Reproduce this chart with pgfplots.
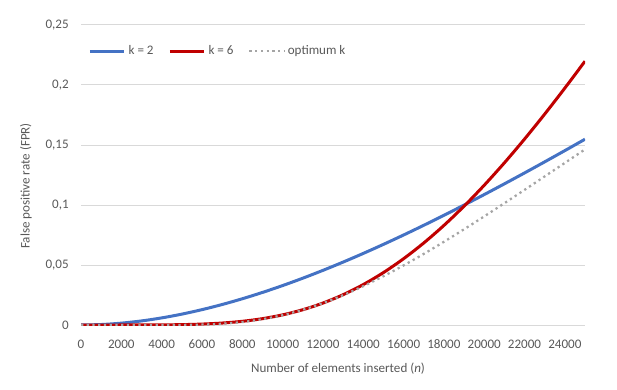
\documentclass[border=0pt]{standalone}
\usepackage{fontspec}
\setmainfont{Carlito}
\usepackage{pgfplots}
\pgfplotsset{compat=1.18}
\definecolor{txtgray}{HTML}{595959}
\definecolor{gridgray}{HTML}{D9D9D9}
\definecolor{kblue}{HTML}{4472C4}
\definecolor{kred}{HTML}{C00000}
\definecolor{kgray}{HTML}{A5A5A5}
\begin{document}
\begin{tikzpicture}
\useasboundingbox (-60.75pt,-48pt) rectangle (402pt,243.75pt);
\begin{axis}[
  at={(0,0)}, anchor=south west,
  scale only axis, width=378pt, height=225pt,
  xmin=0, xmax=25000, ymin=0, ymax=0.25,
  xtick={0,2000,4000,6000,8000,10000,12000,14000,16000,18000,20000,22000,24000},
  xticklabels={0,2000,4000,6000,8000,10000,12000,14000,16000,18000,20000,22000,24000},
  ytick={0,0.05,0.1,0.15,0.2,0.25},
  yticklabels={0,{0,05},{0,1},{0,15},{0,2},{0,25}},
  scaled ticks=false,
  /pgf/number format/assume math mode=true,
  axis line style={draw=none},
  major tick length=0pt,
  ymajorgrids, grid style={gridgray, line width=0.75pt},
  tick label style={font=\fontsize{9.8}{12}\selectfont, text=txtgray},
  xticklabel style={anchor=center, yshift=-14.25pt},
  yticklabel style={anchor=east, xshift=-5.7pt},
  xlabel={Number of elements inserted (\textit{n})},
  ylabel={False positive rate (FPR)},
  label style={font=\fontsize{9.8}{12}\selectfont, text=txtgray},
  xlabel style={at={(rel axis cs:0.51,-0.1467)}, anchor=center},
  ylabel style={at={(rel axis cs:-0.1091,0.4633)}, anchor=center},
  legend columns=-1,
  legend style={draw=none, fill=none, inner sep=0pt, at={(rel axis cs:0.0139,0.913)}, anchor=west,
    font=\fontsize{9.8}{12}\selectfont, text=txtgray,
    /tikz/every even column/.append style={column sep=9pt},
    nodes={inner sep=2pt}},
  legend image code/.code={\draw[#1] (0pt,0pt) -- (26pt,0pt);},
]
\addplot[kblue, line width=2.25pt, smooth] coordinates {
(0,0) (1000,0.000392) (2000,0.001538) (3000,0.003391) (4000,0.005911) (5000,0.009056)
(6000,0.012787) (7000,0.017067) (8000,0.021861) (9000,0.027136) (10000,0.032858)
(11000,0.038999) (12000,0.045528) (13000,0.052417) (14000,0.059641) (15000,0.067175)
(16000,0.074994) (17000,0.083077) (18000,0.091400) (19000,0.099944) (20000,0.108689)
(21000,0.117617) (22000,0.126710) (23000,0.135951) (24000,0.145326) (25000,0.154818)
};
\addlegendentry{k = 2}
\addplot[kred, line width=2.25pt, smooth] coordinates {
(0,0) (1000,0.0000000) (2000,0.0000021) (3000,0.0000200) (4000,0.0000944) (5000,0.0003031)
(6000,0.0007636) (7000,0.001627) (8000,0.003069) (9000,0.005277) (10000,0.008436)
(11000,0.012720) (12000,0.018279) (13000,0.025237) (14000,0.033683) (15000,0.043673)
(16000,0.055229) (17000,0.068337) (18000,0.082958) (19000,0.099025) (20000,0.116450)
(21000,0.135126) (22000,0.154933) (23000,0.175742) (24000,0.197421) (25000,0.219832)
};
\addlegendentry{k = 6}
\addplot[kgray, line width=1.7pt, dash pattern=on 1.7pt off 2.6pt, smooth] coordinates {
(0,0) (1000,0) (2000,0) (3000,0.0000001) (4000,0.0000061) (5000,0.0000671)
(6000,0.000333) (7000,0.001045) (8000,0.002465) (9000,0.004804) (10000,0.008193)
(11000,0.012679) (12000,0.018247) (13000,0.024828) (14000,0.032328) (15000,0.040639)
(16000,0.049646) (17000,0.059238) (18000,0.069310) (19000,0.079763) (20000,0.090512)
(21000,0.101482) (22000,0.112604) (23000,0.123819) (24000,0.135079) (25000,0.146343)
};
\addlegendentry{optimum k}
\end{axis}
\end{tikzpicture}
\end{document}
